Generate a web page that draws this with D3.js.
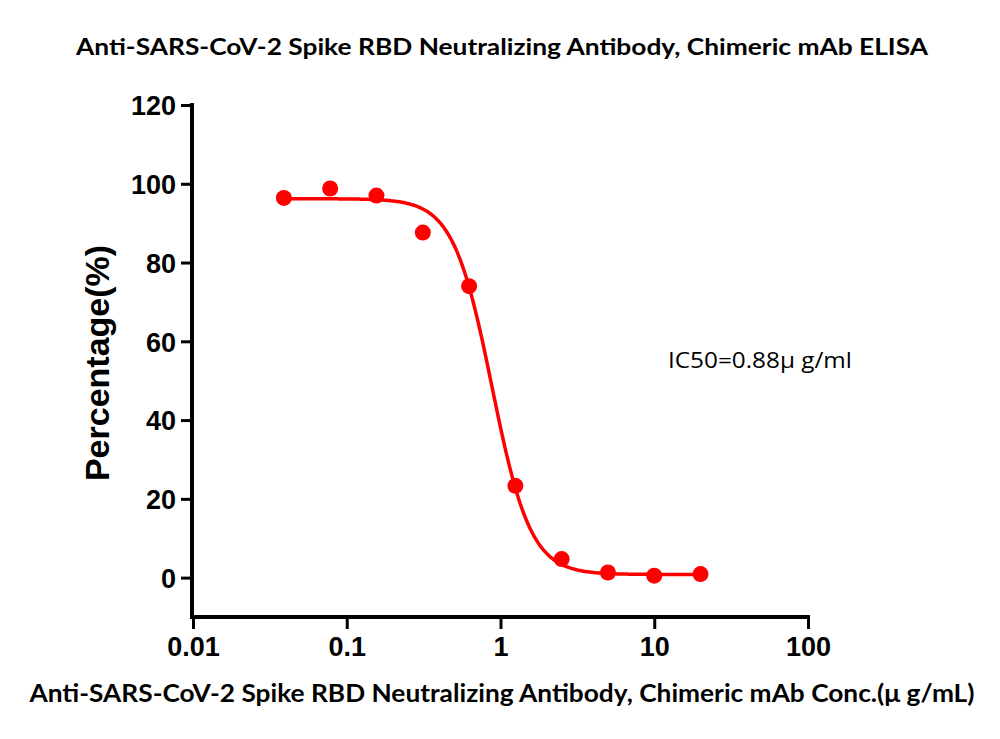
<!DOCTYPE html>
<html><head><meta charset="utf-8">
<script src="https://cdn.jsdelivr.net/npm/d3@7"></script>
<style>body{margin:0;background:#fff}</style>
</head><body>
<svg id="c" width="1000" height="739"></svg>
<script>
const concentrations = [0.039, 0.078, 0.156, 0.3125, 0.625, 1.25, 2.5, 5, 10, 20];
const percentages = [96.4, 98.8, 97.0, 87.6, 74.0, 23.3, 4.7, 1.3, 0.5, 0.9];
const fitParams = {top: 96.2, bottom: 0.8, ic50: 0.88, hill: 3.45};
const xTicks = [0.01, 0.1, 1, 10, 100];
const xTickLabels = ["0.01", "0.1", "1", "10", "100"];
const yTicks = [0, 20, 40, 60, 80, 100, 120];
const titleText = "Anti-SARS-CoV-2 Spike RBD Neutralizing Antibody, Chimeric mAb ELISA";
const xLabelText = "Anti-SARS-CoV-2 Spike RBD Neutralizing Antibody, Chimeric mAb Conc.(\u03bc g/mL)";
const yLabelText = "Percentage(%)";
const ic50Text = "IC50=0.88\u03bc g/ml";

const svg = d3.select("#c");
const x = d3.scaleLog().domain([0.01, 100]).range([193, 808]);
const y = d3.scaleLinear().domain([-10, 120]).range([617, 105]);
const red = "#ff0000";

// axes
const xAxis = d3.axisBottom(x).tickValues(xTicks).tickFormat((d,i)=>xTickLabels[i]).tickSize(12).tickPadding(8);
const gx = svg.append("g").attr("transform","translate(0,617)").call(xAxis);
gx.select(".domain").attr("stroke","#000").attr("stroke-width",4).attr("d","M191,0H810");
gx.selectAll(".tick line").attr("stroke","#000").attr("stroke-width",3);
gx.selectAll(".tick text").attr("font-family","Liberation Sans, Arial, sans-serif").attr("font-weight","bold").attr("font-size",27).attr("fill","#000");

const yAxis = d3.axisLeft(y).tickValues(yTicks).tickSize(11).tickPadding(5);
const gy = svg.append("g").attr("transform","translate(192,0)").call(yAxis);
gy.select(".domain").attr("stroke","#000").attr("stroke-width",4).attr("d","M0,103V619");
gy.selectAll(".tick line").attr("stroke","#000").attr("stroke-width",3);
gy.selectAll(".tick text").attr("font-family","Liberation Sans, Arial, sans-serif").attr("font-weight","bold").attr("font-size",27).attr("fill","#000").attr("dy","0.36em");

// fitted curve
const f = c => fitParams.bottom + (fitParams.top - fitParams.bottom) / (1 + Math.pow(c / fitParams.ic50, fitParams.hill));
const lo = Math.log10(concentrations[0]), hi = Math.log10(concentrations[concentrations.length-1]);
const curve = d3.range(0, 301).map(i => { const c = Math.pow(10, lo + (hi-lo)*i/300); return [c, f(c)]; });
svg.append("path").datum(curve)
  .attr("d", d3.line().x(d=>x(d[0])).y(d=>y(d[1])))
  .attr("fill","none").attr("stroke",red).attr("stroke-width",3.5);

// points
svg.append("g").selectAll("circle").data(concentrations).join("circle")
  .attr("cx", d=>x(d)).attr("cy",(d,i)=>y(percentages[i])).attr("r",8).attr("fill",red);

// texts
svg.append("text").attr("x",502).attr("y",55).attr("text-anchor","middle")
  .attr("font-family","Lato, Open Sans, sans-serif").attr("font-weight","bold").attr("font-size",23)
  .attr("textLength",852).attr("lengthAdjust","spacingAndGlyphs").text(titleText);
svg.append("text").attr("x",502).attr("y",702).attr("text-anchor","middle")
  .attr("font-family","Lato, Open Sans, sans-serif").attr("font-weight","bold").attr("font-size",25)
  .attr("textLength",945).attr("lengthAdjust","spacingAndGlyphs").text(xLabelText);
svg.append("text").attr("transform","translate(109,363) rotate(-90)").attr("text-anchor","middle")
  .attr("font-family","Liberation Sans, Arial, sans-serif").attr("font-weight","bold").attr("font-size",34)
  .text(yLabelText);
svg.append("text").attr("x",668).attr("y",368)
  .attr("font-family","Open Sans, sans-serif").attr("font-size",21)
  .attr("textLength",184).attr("lengthAdjust","spacingAndGlyphs").text(ic50Text);
</script>
</body></html>
